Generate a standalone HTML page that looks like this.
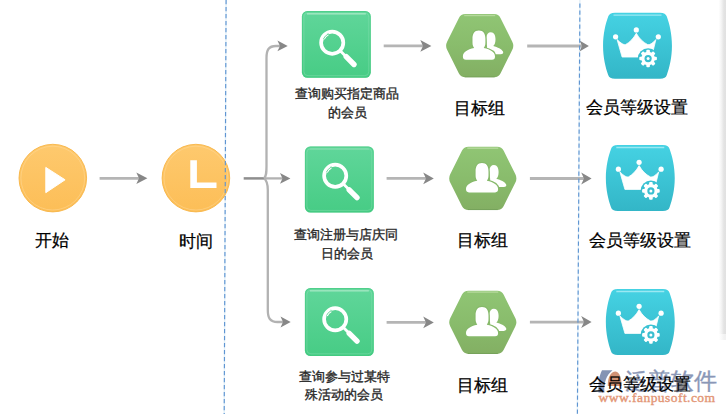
<!DOCTYPE html>
<html><head><meta charset="utf-8">
<style>
html,body{margin:0;padding:0;background:#fff;width:726px;height:414px;overflow:hidden}
svg{position:absolute;left:0;top:0}
.t{font-family:"Liberation Sans",sans-serif;fill:#000;stroke:#000;stroke-width:0.25px}
.s{font-family:"Liberation Sans",sans-serif;fill:#2a2a2a;stroke:#2a2a2a;stroke-width:0.35px}
</style></head><body>
<svg width="726" height="414" viewBox="0 0 726 414">
<defs>
<linearGradient id="gOr" x1="0" y1="0" x2="0" y2="1"><stop offset="0" stop-color="#fec96e"/><stop offset="1" stop-color="#fcbe57"/></linearGradient>
<linearGradient id="gGr" x1="0" y1="0" x2="0" y2="1"><stop offset="0" stop-color="#60d69a"/><stop offset="1" stop-color="#47cc85"/></linearGradient>
<linearGradient id="gHx" x1="0" y1="0" x2="0" y2="1"><stop offset="0" stop-color="#90c574"/><stop offset="0.5" stop-color="#89bc6c"/><stop offset="1" stop-color="#83af63"/></linearGradient>
<linearGradient id="gCr" x1="0" y1="0" x2="0" y2="1"><stop offset="0" stop-color="#45d2e3"/><stop offset="1" stop-color="#33b6c7"/></linearGradient>
<linearGradient id="gCrU" gradientUnits="userSpaceOnUse" x1="0" y1="-33" x2="0" y2="33"><stop offset="0" stop-color="#45d2e3"/><stop offset="1" stop-color="#33b6c7"/></linearGradient>
<linearGradient id="gStrip" x1="0" y1="0" x2="1" y2="0"><stop offset="0" stop-color="#fff"/><stop offset="0.35" stop-color="#f5f5f5"/><stop offset="0.72" stop-color="#e3e3e3"/><stop offset="1" stop-color="#e1e1e1"/></linearGradient>
<path id="fpp" d="M-0.8,-15.3 C3.8,-15.3 5.7,-12 5.7,-7 L5.7,-3 C5.7,-0.5 5,1 4,2.4 C11,3.7 15.3,6.7 15.3,10.7 C15.3,13 14.3,14 12.3,14 L-13.8,14 C-15.8,14 -16.8,13 -16.8,10.7 C-16.8,6.7 -12.5,3.7 -5.5,2.4 C-6.5,1 -7.2,-0.5 -7.2,-3 L-7.2,-7 C-7.2,-12 -5.4,-15.3 -0.8,-15.3 Z"/>
<g id="mag">
<circle cx="0" cy="0" r="11.1" fill="none" stroke="#fff" stroke-width="3.7"/>
<path d="M-8.3,-3.5 A9,9 0 0 1 -3.8,-8.2" fill="none" stroke="#fff" stroke-width="1.8"/>
<path d="M-8.75,-3.7 A9.5,9.5 0 0 1 -4,-8.6" fill="none" stroke="#5fd193" stroke-width="0.9"/>
<path d="M-4.3,-9.6 L-3.5,-7.5" stroke="#5fd193" stroke-width="0.6"/>
<path d="M8.5,8.5 L13,13" stroke="#fff" stroke-width="2.8" stroke-linecap="round"/>
<path d="M14,14 L21.8,21.8" stroke="#fff" stroke-width="5.4" stroke-linecap="round"/>
</g>

<g id="hex">
<path d="M-32.60,4.03 Q-34.60,0.00 -32.60,-4.03 L-20.90,-27.57 Q-18.90,-31.60 -14.40,-31.60 L14.40,-31.60 Q18.90,-31.60 20.90,-27.57 L32.60,-4.03 Q34.60,0.00 32.60,4.03 L20.90,27.57 Q18.90,31.60 14.40,31.60 L-14.40,31.60 Q-18.90,31.60 -20.90,27.57 Z" fill="url(#gHx)"/>
<path d="M-15.5,-30.2 H15.5" stroke="#c0e0a8" stroke-width="1.4" opacity="0.75"/>
<path d="M-15,31.2 H15" stroke="#6e9a55" stroke-width="1" opacity="0.6"/>
<!-- back person -->
<path d="M11.2,-13.5 C14.3,-13.5 15.8,-10.5 15.8,-6.5 C15.8,-3 15,-1 13.5,0.3 C18,1.5 22,3.5 23.3,5.8 C24,7.5 23,8.6 21,8.6 L8,8.6 L6.6,-8 C6.8,-11.5 8.5,-13.5 11.2,-13.5 Z" fill="#fff"/>
<!-- front person -->
<use href="#fpp" fill="#fff" stroke="#86b96a" stroke-width="2.4" stroke-linejoin="round"/>
<use href="#fpp" fill="#fff"/>
</g>
<g id="crown">
<path d="M-22.5,-33 H22.5 C26.5,-33 28.5,-31.7 29.3,-29.2 C32,-21.7 34.45,-12 34.45,0 C34.45,12 32,21.7 29.3,29.2 C28.5,31.7 26.5,33 22.5,33 H-22.5 C-26.5,33 -28.5,31.7 -29.3,29.2 C-32,21.7 -34.45,12 -34.45,0 C-34.45,-12 -32,-21.7 -29.3,-29.2 C-28.5,-31.7 -26.5,-33 -22.5,-33 Z" fill="url(#gCr)"/>
<path d="M-24,-30.6 H24" stroke="#b0eef6" stroke-width="1.3" opacity="0.8"/>
<g transform="translate(0.6,0.3)">
<circle cx="-22.5" cy="-9.2" r="2.6" fill="#fff"/>
<circle cx="-1.8" cy="-16.1" r="2.6" fill="#fff"/>
<circle cx="20.2" cy="-9.2" r="2.6" fill="#fff"/>
<path d="M-21,-6.5 Q-15,-0.5 -12.5,-1.5 Q-6,-5 -1.8,-12.8 Q2.5,-5 9.5,-1.5 Q12.5,-0.5 17.8,-6.5 L13.5,11 L-16,11 Z" fill="#fff" stroke="#fff" stroke-width="0.8" stroke-linejoin="round"/>
<circle cx="10" cy="12.5" r="10.3" fill="url(#gCrU)"/>
<g transform="translate(10,12.5)">
<circle r="6.8" fill="#fff"/>
<g fill="#fff">
<rect x="-1.8" y="-8.8" width="3.6" height="17.6" rx="1"/>
<rect x="-1.8" y="-8.8" width="3.6" height="17.6" rx="1" transform="rotate(45)"/>
<rect x="-1.8" y="-8.8" width="3.6" height="17.6" rx="1" transform="rotate(90)"/>
<rect x="-1.8" y="-8.8" width="3.6" height="17.6" rx="1" transform="rotate(135)"/>
</g>
<circle r="3.6" fill="#3abfd0"/>
<circle r="1.5" fill="#fff"/>
</g>
</g>
</g>
</defs>

<!-- right gray strip -->
<rect x="718.5" y="0" width="7.5" height="334" fill="url(#gStrip)"/>
<rect x="718.5" y="334" width="7.5" height="6" fill="url(#gStrip)" opacity="0.45"/>

<line x1="226.1" y1="0" x2="224.2" y2="414" stroke="#e2f0f8" stroke-width="1.4"/>
<line x1="579.9" y1="0" x2="577.4" y2="414" stroke="#e2f0f8" stroke-width="1.4"/>
<!-- orange circles -->
<circle cx="52.8" cy="178.1" r="33.8" fill="url(#gOr)" stroke="#f7b445" stroke-width="0.9"/>
<circle cx="52.8" cy="178.1" r="31.9" fill="none" stroke="#ffe0a6" stroke-width="0.9" opacity="0.45"/>
<path d="M45.8,167.4 L65.1,179.8 L45.8,192.7 Z" fill="#fff" stroke="#fff" stroke-width="1" stroke-linejoin="round"/>
<circle cx="195.9" cy="178.1" r="33.8" fill="url(#gOr)" stroke="#f7b445" stroke-width="0.9"/>
<circle cx="195.9" cy="178.1" r="31.9" fill="none" stroke="#ffe0a6" stroke-width="0.9" opacity="0.45"/>
<path d="M190.3,160.2 H196.9 V182.5 H216.5 V188.1 H190.3 Z" fill="#fff"/>

<!-- arrow start->time -->
<line x1="99.6" y1="178.3" x2="140" y2="178.3" stroke="#b5b5b5" stroke-width="2.8"/>
<path d="M136.3,172.5 L147.4,178.3 L136.3,184.1 L139,178.3 Z" fill="#878787"/>

<!-- branch -->
<line x1="243.7" y1="178.4" x2="264" y2="178.4" stroke="#8e8e8e" stroke-width="2.5"/>
<line x1="264" y1="178.4" x2="283" y2="178.4" stroke="#b2b2b2" stroke-width="2.3"/>
<path d="M280,172.9 L290.4,178.4 L280,183.8 L282.5,178.4 Z" fill="#878787"/>
<path d="M264,178.4 C266.5,176 266.5,172 266.5,166 L266.5,58 C266.5,50 268.5,46 276,46 L280,46" fill="none" stroke="#b2b2b2" stroke-width="2.3"/>
<path d="M277.4,40.4 L287.7,46 L277.4,51.2 L280,46 Z" fill="#878787"/>
<path d="M264,178.4 C267.5,181 267.8,185 267.8,190 L267.8,310 C267.8,318 270,322 277.5,322 L283,322" fill="none" stroke="#b2b2b2" stroke-width="2.3"/>
<path d="M280.5,316.6 L290.7,322 L280.5,327.4 L283,322 Z" fill="#878787"/>

<!-- squares -->
<rect x="301.9" y="11" width="68.9" height="66.85" rx="5.5" fill="url(#gGr)"/>
<rect x="302.4" y="11.5" width="67.9" height="65.85" rx="5" fill="none" stroke="#3ec77b" stroke-width="1" opacity="0.45"/>
<rect x="303.9" y="13.2" width="64.9" height="62.45" rx="4" fill="none" stroke="#9ae6bd" stroke-width="1" opacity="0.35"/>
<path d="M306.9,13.9 H365.8" stroke="#c0efd5" stroke-width="1.4" opacity="0.75"/>
<use href="#mag" x="332.2" y="42.7"/>
<rect x="304.9" y="146.4" width="68.9" height="66.2" rx="5.5" fill="url(#gGr)"/>
<rect x="305.4" y="146.9" width="67.9" height="65.2" rx="5" fill="none" stroke="#3ec77b" stroke-width="1" opacity="0.45"/>
<rect x="306.9" y="148.6" width="64.9" height="61.8" rx="4" fill="none" stroke="#9ae6bd" stroke-width="1" opacity="0.35"/>
<path d="M309.9,149.3 H368.8" stroke="#c0efd5" stroke-width="1.4" opacity="0.25"/>
<use href="#mag" x="335.2" y="175.8"/>
<rect x="304.9" y="288" width="68.9" height="68" rx="5.5" fill="url(#gGr)"/>
<rect x="305.4" y="288.5" width="67.9" height="67" rx="5" fill="none" stroke="#3ec77b" stroke-width="1" opacity="0.45"/>
<rect x="306.9" y="290.2" width="64.9" height="63.6" rx="4" fill="none" stroke="#9ae6bd" stroke-width="1" opacity="0.35"/>
<path d="M309.9,290.9 H368.8" stroke="#c0efd5" stroke-width="1.4" opacity="0.7"/>
<use href="#mag" x="335.2" y="319.3"/>

<!-- arrows square->hex -->
<line x1="383.7" y1="45.9" x2="423" y2="45.9" stroke="#b5b5b5" stroke-width="2.8"/>
<path d="M420.3,40.1 L431.4,45.9 L420.3,51.7 L423,45.9 Z" fill="#878787"/>
<line x1="386.6" y1="178.4" x2="426" y2="178.4" stroke="#b5b5b5" stroke-width="2.8"/>
<path d="M423.2,172.6 L433.8,178.4 L423.2,184.2 L426,178.4 Z" fill="#878787"/>
<line x1="386.6" y1="322.4" x2="426" y2="322.4" stroke="#b5b5b5" stroke-width="2.8"/>
<path d="M423.2,316.6 L433.8,322.4 L423.2,328.2 L426,322.4 Z" fill="#878787"/>

<!-- hexagons -->
<use href="#hex" x="479.7" y="45.7"/>
<use href="#hex" x="482.8" y="178.4"/>
<use href="#hex" x="482.8" y="322.3"/>

<!-- arrows hex->crown -->
<line x1="527.2" y1="46" x2="582" y2="46" stroke="#b5b5b5" stroke-width="2.8"/>
<path d="M579.5,40.5 L588.9,46 L579.5,51.5 L582,46 Z" fill="#878787"/>
<line x1="529.9" y1="178.5" x2="584" y2="178.5" stroke="#b5b5b5" stroke-width="2.8"/>
<path d="M581.2,172.5 L591.6,178.5 L581.2,184.5 L584,178.5 Z" fill="#878787"/>
<line x1="529.9" y1="322.1" x2="584" y2="322.1" stroke="#b5b5b5" stroke-width="2.8"/>
<path d="M581.2,316.1 L591.6,322.1 L581.2,328.1 L584,322.1 Z" fill="#878787"/>

<!-- crowns -->
<use href="#crown" x="637.5" y="45.75"/>
<use href="#crown" x="640.3" y="178.1"/>
<use href="#crown" x="640.3" y="322.1"/>

<!-- dashed lines -->
<line x1="226.1" y1="0" x2="224.2" y2="414" stroke="#5f95d2" stroke-width="1.15" stroke-dasharray="4.2 2.8"/>
<line x1="579.9" y1="3.5" x2="577.4" y2="414" stroke="#5f95d2" stroke-width="1.15" stroke-dasharray="4.2 2.8"/>

<!-- watermark -->
<g opacity="0.85">
<path d="M602,370.3 L612.5,370.3 C606.5,375 603.5,383 604.5,392.6 L598.5,392.6 C598,384 599,376 602,370.3 Z" fill="#6f82a8"/>
<path d="M607.8,386 C607.5,377 611,371.5 615.5,371.5 C620,372.5 621.5,378 621.5,386 Z" fill="#c9805e"/>
<text x="624.5" y="389.3" font-size="23" font-family="Liberation Sans,sans-serif" fill="#7686ab" stroke="#7686ab" stroke-width="0.35">泛普软件</text>
</g>
<text x="598.5" y="401.6" font-size="13.5" font-family="Liberation Serif,serif" fill="#e39676" stroke="#e39676" stroke-width="0.4" letter-spacing="0.45">www.fanpusoft.com</text>
<!-- labels -->
<text class="t" x="51.5" y="246.3" font-size="17" text-anchor="middle">开始</text>
<text class="t" x="195.8" y="246.5" font-size="17" text-anchor="middle">时间</text>
<text class="t" x="479.5" y="113.5" font-size="17" text-anchor="middle">目标组</text>
<text class="t" x="482.3" y="246.3" font-size="17" text-anchor="middle">目标组</text>
<text class="t" x="482.3" y="390.5" font-size="17" text-anchor="middle">目标组</text>
<text class="t" x="637.3" y="113.3" font-size="17" text-anchor="middle">会员等级设置</text>
<text class="t" x="639.5" y="246.3" font-size="17" text-anchor="middle">会员等级设置</text>
<text class="t" x="639.5" y="390.2" font-size="17" text-anchor="middle">会员等级设置</text>

<text class="s" x="346.8" y="98" font-size="13" text-anchor="middle">查询购买指定商品</text>
<text class="s" x="347.6" y="117" font-size="13" text-anchor="middle">的会员</text>
<text class="s" x="345.6" y="239" font-size="13" text-anchor="middle">查询注册与店庆同</text>
<text class="s" x="347.2" y="258.2" font-size="13" text-anchor="middle">日的会员</text>
<text class="s" x="344.9" y="380.5" font-size="13" text-anchor="middle">查询参与过某特</text>
<text class="s" x="343.6" y="399" font-size="13" text-anchor="middle">殊活动的会员</text>

</svg>
</body></html>
